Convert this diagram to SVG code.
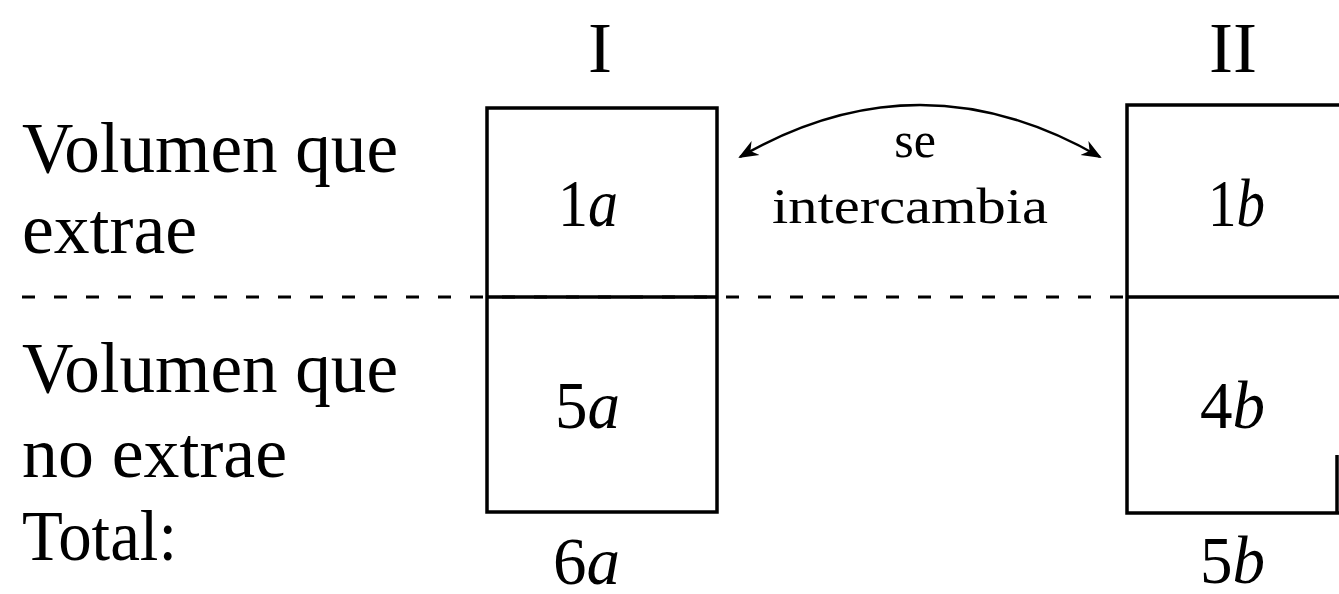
<svg xmlns="http://www.w3.org/2000/svg" width="1339" height="594" viewBox="0 0 1339 594">
  <style>
    .lbl { font-family: "Liberation Serif", "DejaVu Serif", serif; font-size: 72px; fill: #000; }
    .val { font-family: "Liberation Serif", "DejaVu Serif", serif; font-size: 68px; fill: #000; }
    .it { font-style: italic; }
    .small { font-family: "Liberation Serif", "DejaVu Serif", serif; font-size: 50px; fill: #000; }
    .box { fill: none; stroke: #000; stroke-width: 3.5; }
    .div { stroke: #000; stroke-width: 3.5; }
    .dash { stroke: #000; stroke-width: 3; stroke-dasharray: 13 19; fill: none; }
    .arc { fill: none; stroke: #000; stroke-width: 2.5; }
  </style>
  <defs>
    <marker id="ah" viewBox="0 0 10 10" refX="9" refY="5" markerWidth="8" markerHeight="8" orient="auto-start-reverse" markerUnits="strokeWidth">
      <path d="M0,1 L10,5 L0,9 L3,5 Z" fill="#000"/>
    </marker>
  </defs>
  <rect width="1339" height="594" fill="#fff"/>

  <g id="row-labels">
    <text class="lbl" x="22" y="172" textLength="376" lengthAdjust="spacingAndGlyphs">Volumen que</text>
    <text class="lbl" x="22" y="253" textLength="175" lengthAdjust="spacingAndGlyphs">extrae</text>
    <text class="lbl" x="22" y="392" textLength="376" lengthAdjust="spacingAndGlyphs">Volumen que</text>
    <text class="lbl" x="22" y="477" textLength="265" lengthAdjust="spacingAndGlyphs">no extrae</text>
    <text class="lbl" x="22" y="560" textLength="155" lengthAdjust="spacingAndGlyphs">Total:</text>
  </g>

  <g id="connectors">
    <line class="dash" x1="22" y1="297" x2="1127" y2="297"/>
    <path class="arc" d="M740,157 Q920,53 1100,157" marker-start="url(#ah)" marker-end="url(#ah)"/>
  </g>

  <g id="col-I">
    <text class="lbl" x="600" y="72" text-anchor="middle">I</text>
    <rect class="box" x="487" y="108" width="230" height="404" fill="#fff"/>
    <line class="div" x1="487" y1="297" x2="717" y2="297"/>
    <text class="val" x="558" y="226" textLength="60" lengthAdjust="spacingAndGlyphs">1<tspan class="it">a</tspan></text>
    <text class="val" x="555" y="428" textLength="65" lengthAdjust="spacingAndGlyphs">5<tspan class="it">a</tspan></text>
    <text class="val" x="553" y="584" textLength="67" lengthAdjust="spacingAndGlyphs">6<tspan class="it">a</tspan></text>
  </g>

  <g id="exchange-label">
    <text class="small" x="915" y="157" text-anchor="middle">se</text>
    <text class="small" x="772" y="223" textLength="276" lengthAdjust="spacingAndGlyphs">intercambia</text>
  </g>

  <g id="col-II">
    <text class="lbl" x="1233" y="72" text-anchor="middle">II</text>
    <path class="box" d="M1341,105 H1127 V513 H1341"/>
    <line class="div" x1="1337" y1="455" x2="1337" y2="513"/>
    <line class="div" x1="1127" y1="297" x2="1341" y2="297"/>
    <text class="val" x="1208" y="226" textLength="57" lengthAdjust="spacingAndGlyphs">1<tspan class="it">b</tspan></text>
    <text class="val" x="1200" y="428" textLength="65" lengthAdjust="spacingAndGlyphs">4<tspan class="it">b</tspan></text>
    <text class="val" x="1200" y="583" textLength="65" lengthAdjust="spacingAndGlyphs">5<tspan class="it">b</tspan></text>
  </g>
</svg>
